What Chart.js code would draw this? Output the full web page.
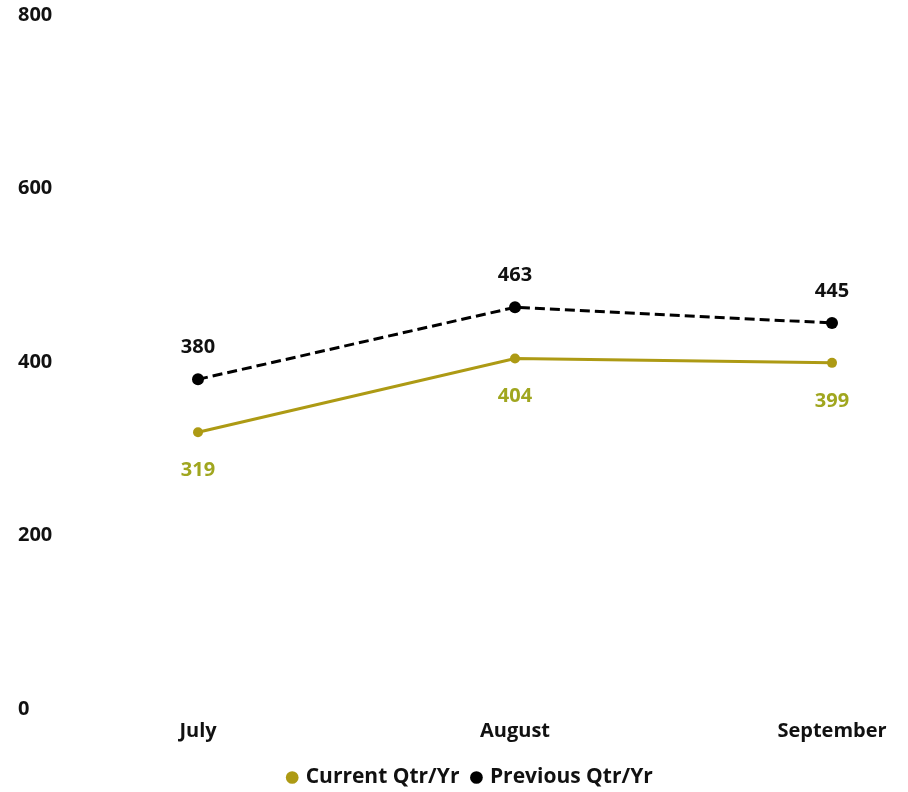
<!DOCTYPE html>
<html>
<head>
<meta charset="utf-8">
<script src="https://cdn.jsdelivr.net/npm/chart.js@4.4.1/dist/chart.umd.min.js"></script>
<style>
    html, body { margin: 0; padding: 0; background: #fff; }
    #wrap { width: 908px; height: 792px; }
</style>
</head>
<body>
<div id="wrap"><canvas id="qtrChart"></canvas></div>
<script>
// months and values for the two periods
var months = ['July', 'August', 'September'];
var currentQtr = [319, 404, 399];
var previousQtr = [380, 463, 445];
var yTicks = [0, 200, 400, 600, 800];

var FONT = "'Open Sans', sans-serif";
var GOLD = '#ad9a14';
var GOLD_LABEL = '#a0a61f';

// writes each point's value above or below the marker
var valueLabels = {
    id: 'valueLabels',
    afterDatasetsDraw: function (chart) {
        var ctx = chart.ctx;
        ctx.save();
        ctx.font = 'bold 20px ' + FONT;
        ctx.textAlign = 'center';
        ctx.textBaseline = 'middle';
        chart.data.datasets.forEach(function (ds, i) {
            var meta = chart.getDatasetMeta(i);
            meta.data.forEach(function (pt, j) {
                ctx.fillStyle = ds.labelColor;
                ctx.fillText(String(ds.data[j]), pt.x, pt.y + ds.labelOffset);
            });
        });
        ctx.restore();
    }
};

// nudge the legend a bit right of the default centre
var legendShift = {
    id: 'legendShift',
    afterLayout: function (chart) {
        if (chart.legend) {
            chart.legend.left += 46;
            chart.legend.right += 46;
        }
    }
};

var ctx = document.getElementById('qtrChart').getContext('2d');
var chart = new Chart(ctx, {
    type: 'line',
    data: {
        labels: months,
        datasets: [{
            label: 'Current Qtr/Yr',
            data: currentQtr,
            borderColor: GOLD,
            backgroundColor: GOLD,
            borderWidth: 3,
            pointRadius: 5,
            pointBackgroundColor: GOLD,
            pointBorderWidth: 0,
            labelColor: GOLD_LABEL,
            labelOffset: 38
        }, {
            label: 'Previous Qtr/Yr',
            data: previousQtr,
            borderColor: '#000',
            backgroundColor: '#000',
            borderWidth: 3,
            borderDash: [10, 5],
            pointRadius: 6,
            pointBackgroundColor: '#000',
            pointBorderWidth: 0,
            labelColor: '#111',
            labelOffset: -32
        }]
    },
    options: {
        responsive: true,
        maintainAspectRatio: false,
        animation: false,
        layout: {
            padding: { left: 18, right: 76, top: 4, bottom: -6 }
        },
        scales: {
            x: {
                offset: false,
                grid: { display: false, drawTicks: false },
                border: { display: false },
                ticks: {
                    color: '#111',
                    padding: 10,
                    font: { family: FONT, size: 20, weight: 'bold' }
                }
            },
            y: {
                min: 0,
                max: 800,
                afterBuildTicks: function (axis) {
                    axis.ticks = yTicks.map(function (v) { return { value: v }; });
                },
                afterFit: function (axis) { axis.width = 180; },
                grid: { display: false, drawTicks: false },
                border: { display: false },
                ticks: {
                    color: '#111',
                    crossAlign: 'far',
                    font: { family: FONT, size: 20, weight: 'bold' }
                }
            }
        },
        plugins: {
            legend: {
                position: 'bottom',
                labels: {
                    usePointStyle: true,
                    pointStyle: 'circle',
                    boxWidth: 6,
                    boxHeight: 9,
                    padding: 14,
                    color: '#111',
                    font: { family: FONT, size: 21, weight: 'bold' }
                }
            },
            tooltip: { enabled: false }
        }
    },
    plugins: [valueLabels, legendShift]
});
</script>
</body>
</html>
